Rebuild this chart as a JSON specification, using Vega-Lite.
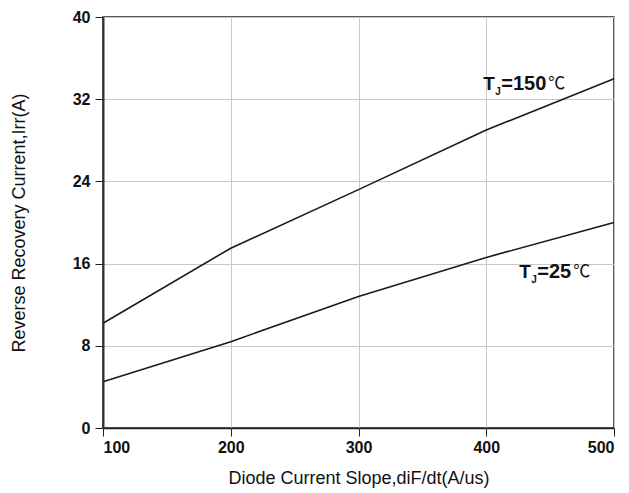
{
  "$schema": "https://vega.github.io/schema/vega-lite/v6.json",
  "autosize": "none",
  "width": 511,
  "height": 411,
  "padding": {"left": 103, "top": 17, "right": 15, "bottom": 65},
  "background": "white",
  "config": {
    "view": {"stroke": "#222", "strokeWidth": 1.5},
    "font": "Liberation Sans"
  },
  "datasets": {
    "curves": [
      {"didt": 100, "irr": 10.2, "tj": "150"},
      {"didt": 200, "irr": 17.5, "tj": "150"},
      {"didt": 300, "irr": 23.2, "tj": "150"},
      {"didt": 400, "irr": 29.0, "tj": "150"},
      {"didt": 500, "irr": 34.0, "tj": "150"},
      {"didt": 100, "irr": 4.5, "tj": "25"},
      {"didt": 200, "irr": 8.4, "tj": "25"},
      {"didt": 300, "irr": 12.8, "tj": "25"},
      {"didt": 400, "irr": 16.6, "tj": "25"},
      {"didt": 500, "irr": 20.0, "tj": "25"}
    ],
    "labels": [
      {"x": 397.7, "y": 33.5, "t": "T", "j": "J", "v": "=150", "c": "℃", "k": "150"},
      {"x": 425.8, "y": 15.2, "t": "T", "j": "J", "v": "=25", "c": "℃", "k": "25"}
    ]
  },
  "layer": [
    {
      "data": {"name": "curves"},
      "mark": {"type": "line", "color": "#1a1a1a", "strokeWidth": 1.6},
      "encoding": {
        "x": {
          "field": "didt", "type": "quantitative",
          "scale": {"domain": [100, 500], "nice": false},
          "axis": {
            "values": [100, 200, 300, 400, 500],
            "title": "Diode Current Slope,diF/dt(A/us)",
            "titleFont": "Liberation Sans", "titleFontSize": 18, "titleFontWeight": "normal", "titleColor": "#111",
            "titlePadding": 14,
            "labelFont": "Liberation Sans", "labelFontSize": 16, "labelFontWeight": "bold", "labelColor": "#111",
            "labelPadding": 3,
            "grid": true, "gridColor": "#c8c8c8", "gridWidth": 1,
            "domainColor": "#222", "domainWidth": 1.5,
            "tickColor": "#222", "tickSize": 8, "tickWidth": 1
          }
        },
        "y": {
          "field": "irr", "type": "quantitative",
          "scale": {"domain": [0, 40], "nice": false},
          "axis": {
            "values": [0, 8, 16, 24, 32, 40],
            "title": "Reverse Recovery Current,Irr(A)",
            "titleFont": "Liberation Sans", "titleFontSize": 18, "titleFontWeight": "normal", "titleColor": "#111",
            "titlePadding": 44,
            "labelFont": "Liberation Sans", "labelFontSize": 16, "labelFontWeight": "bold", "labelColor": "#111",
            "labelPadding": 5,
            "grid": true, "gridColor": "#c8c8c8", "gridWidth": 1,
            "domainColor": "#333", "domainWidth": 2,
            "tickColor": "#222", "tickSize": 8, "tickWidth": 1
          }
        },
        "detail": {"field": "tj", "type": "nominal"}
      }
    },
    {
      "data": {"name": "labels"},
      "mark": {"type": "text", "align": "left", "baseline": "middle", "fontSize": 19, "fontWeight": "bold", "font": "Liberation Sans", "color": "#111"},
      "encoding": {
        "x": {"field": "x", "type": "quantitative"},
        "y": {"field": "y", "type": "quantitative"},
        "text": {"field": "t"}
      }
    },
    {
      "data": {"name": "labels"},
      "mark": {"type": "text", "align": "left", "baseline": "middle", "fontSize": 10, "fontWeight": "bold", "font": "Liberation Sans", "color": "#111", "dx": 12, "dy": 8},
      "encoding": {
        "x": {"field": "x", "type": "quantitative"},
        "y": {"field": "y", "type": "quantitative"},
        "text": {"field": "j"}
      }
    },
    {
      "data": {"name": "labels"},
      "mark": {"type": "text", "align": "left", "baseline": "middle", "fontSize": 20, "fontWeight": "bold", "font": "Liberation Sans", "color": "#111", "dx": 18},
      "encoding": {
        "x": {"field": "x", "type": "quantitative"},
        "y": {"field": "y", "type": "quantitative"},
        "text": {"field": "v"}
      }
    },
    {
      "data": {"name": "labels"},
      "transform": [{"filter": "datum.k == '150'"}],
      "mark": {"type": "text", "align": "left", "baseline": "middle", "fontSize": 17, "fontWeight": "normal", "font": "Noto Sans CJK SC", "color": "#111", "dx": 65},
      "encoding": {
        "x": {"field": "x", "type": "quantitative"},
        "y": {"field": "y", "type": "quantitative"},
        "text": {"field": "c"}
      }
    },
    {
      "data": {"name": "labels"},
      "transform": [{"filter": "datum.k == '25'"}],
      "mark": {"type": "text", "align": "left", "baseline": "middle", "fontSize": 17, "fontWeight": "normal", "font": "Noto Sans CJK SC", "color": "#111", "dx": 54},
      "encoding": {
        "x": {"field": "x", "type": "quantitative"},
        "y": {"field": "y", "type": "quantitative"},
        "text": {"field": "c"}
      }
    }
  ]
}
